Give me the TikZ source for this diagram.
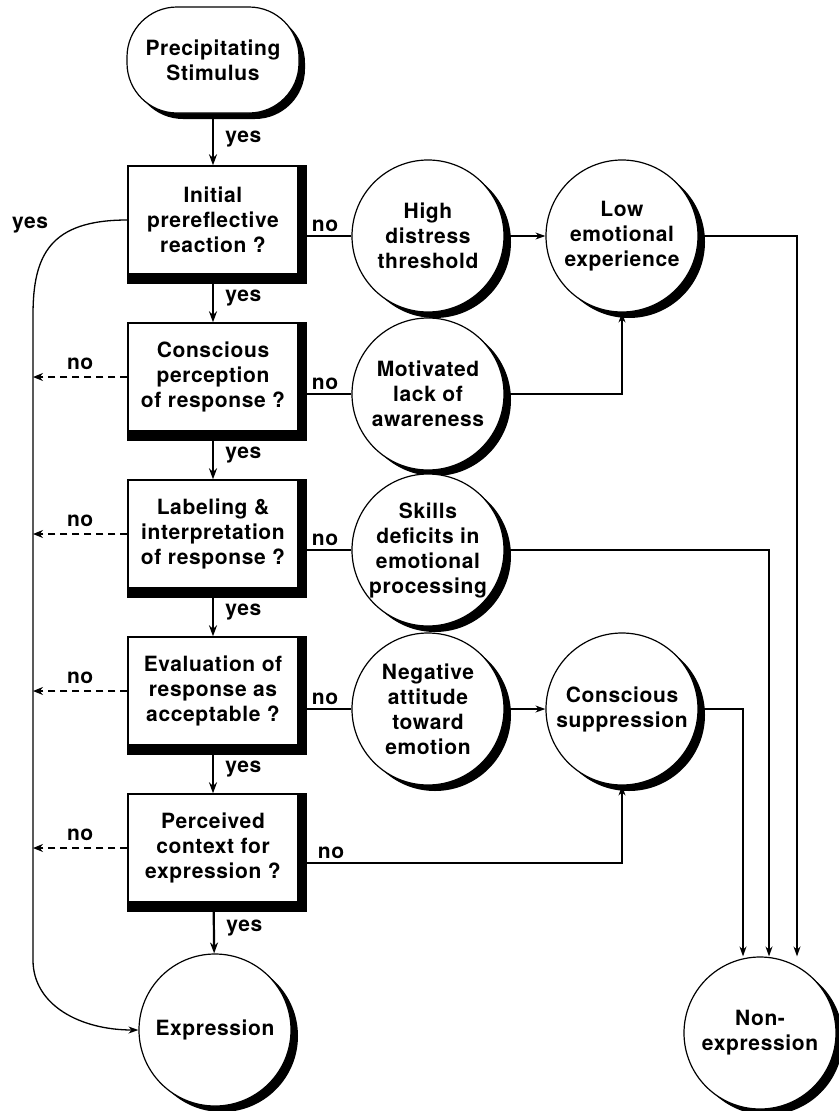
\documentclass[tikz,border=0pt]{standalone}
\usepackage{fontspec}
\setmainfont{TeX Gyre Heros}[LetterSpace=3]
\usetikzlibrary{positioning}
\usetikzlibrary{arrows.meta}
\usetikzlibrary{shadows}
\usetikzlibrary{backgrounds}

\tikzset{
  every node/.style={font=\bfseries\fontsize{21}{25}\selectfont},
  box/.style={draw, line width=1.4pt, fill=white, minimum width=170pt, minimum height=108pt, align=center, inner sep=0pt},
  state/.style={circle, draw, line width=1.2pt, fill=white, minimum size=152pt, align=center, inner sep=0pt,
    drop shadow={shadow xshift=7pt, shadow yshift=-6pt, fill=black, opacity=1}},
  startnode/.style={rectangle, rounded corners=50pt, draw, line width=1.2pt, fill=white, minimum width=172pt, minimum height=106pt, align=center,
    drop shadow={shadow xshift=6pt, shadow yshift=-6pt, fill=black, opacity=1}},
  yesarrow/.style={line width=2.2pt, -{Stealth[length=11pt,width=8pt]}},
  conn/.style={line width=1.3pt, -{Stealth[length=10pt,width=7pt]}},
  link/.style={line width=1.3pt},
  noarrow/.style={line width=1.3pt, dash pattern=on 7pt off 5pt, -{Stealth[length=10pt,width=8pt]}}
}

\begin{document}
\begin{tikzpicture}[x=1pt,y=-1pt]
  \useasboundingbox (0,0) rectangle (838,1111);

  % main column
  \node[startnode] (stim) at (213,60) {Precipitating\\Stimulus};
  \node[box] (b1) at (213,220) {Initial\\prereflective\\reaction ?};
  \node[box] (b2) at (213,377) {Conscious\\perception\\of response ?};
  \node[box] (b3) at (213,534) {Labeling \&\\interpretation\\of response ?};
  \node[box] (b4) at (213,691) {Evaluation of\\response as\\acceptable ?};
  \node[box] (b5) at (213,848) {Perceived\\context for\\expression ?};
  \node[state] (exp) at (215,1030) {Expression};

  % blocking states
  \node[state] (high) at (428,236) {High\\distress\\threshold};
  \node[state] (mot) at (428,394) {Motivated\\lack of\\awareness};
  \node[state] (skill) at (428,550) {Skills\\deficits in\\emotional\\processing};
  \node[state] (neg) at (428,709) {Negative\\attitude\\toward\\emotion};
  \node[state] (low) at (622,236) {Low\\emotional\\experience};
  \node[state] (supp) at (622,709) {Conscious\\suppression};
  \node[state] (nonexp) at (760,1033) {Non-\\expression};

  % box shadows
  \begin{scope}[on background layer]
    \foreach \b in {b1,b2,b3,b4,b5}
      \fill ([shift={(-0.7pt,0.7pt)}]\b.north west) rectangle ([shift={(8pt,-9pt)}]\b.south east);
  \end{scope}

  % yes path
  \draw[yesarrow] (stim) -- (b1) node[midway, right=8pt] {yes};
  \foreach \a/\b in {b1/b2, b2/b3, b3/b4, b4/b5, b5/exp}
    \draw[yesarrow] (\a) -- (\b) node[midway, right=8pt] {yes};

  % no branches to the right
  \draw[link] (b1.east |- high.west) -- (high.west) node[midway, above] {no};
  \draw[link] (b2.east |- mot.west) -- (mot.west) node[midway, above] {no};
  \draw[link] (b3.east |- skill.west) -- (skill.west) node[midway, above] {no};
  \draw[link] (b4.east |- neg.west) -- (neg.west) node[midway, above] {no};
  \draw[conn] ([yshift=-15pt]b5.east) -| (supp.south) node[pos=0.05, above] {no};

  \draw[conn] (high) -- (low);
  \draw[conn] (mot.east) -| (low.south);
  \draw[conn] (neg) -- (supp);

  \coordinate (r1) at (797,0);
  \coordinate (r2) at (769,0);
  \coordinate (r3) at (743,0);
  \draw[conn] (low.east) -| (r1 |- nonexp.north);
  \draw[conn] (skill.east) -| (r2 |- nonexp.north);
  \draw[conn] (supp.east) -| (r3 |- nonexp.north);

  % no branches to the left
  \coordinate (lrail) at (33,0);
  \foreach \b in {b2,b3,b4,b5}
    \draw[noarrow] (\b.west) -- (\b.west -| lrail) node[midway, above=3pt] {no};

  \draw[conn] (b1.west) .. controls (50,220) and (33,255) .. (33,315) -- (33,960)
    .. controls (33,1005) and (80,1030) .. (exp.west);
  \node (yestop) at (30,225) {yes};
\end{tikzpicture}
\end{document}
